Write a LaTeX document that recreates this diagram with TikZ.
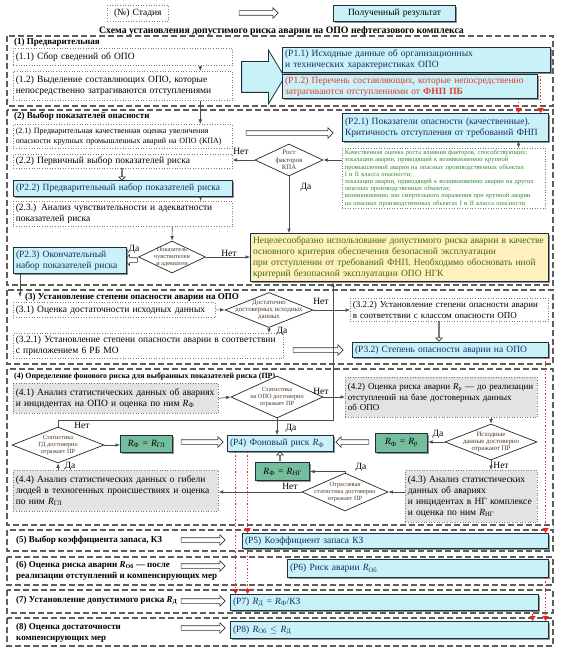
\documentclass[tikz,border=0pt]{standalone}
\usepackage{fontspec}
\setmainfont{Liberation Serif}
\usetikzlibrary{shapes.geometric,shapes.arrows,arrows.meta,shadows,calc}
\definecolor{cyanf}{HTML}{C9F1F8}
\definecolor{pborder}{HTML}{1E2E3A}
\definecolor{pblue}{HTML}{1B2A66}
\definecolor{pred}{HTML}{E5392F}
\definecolor{gtext}{HTML}{2F8A2F}
\definecolor{ytext}{HTML}{3D6B14}
\definecolor{yfill}{HTML}{FFF0BE}
\definecolor{grayf}{HTML}{E3E3E3}
\definecolor{greenf}{HTML}{74BE9E}
\definecolor{dotgray}{HTML}{7A7A7A}
\definecolor{secgray}{HTML}{5E5E5E}
\definecolor{diatext}{HTML}{4A3826}
\definecolor{redl}{HTML}{E8281E}
\newcommand\Rs[1]{\textit{R}\textsubscript{#1}}
\newcommand\fmain{\fontsize{9.5}{11}\selectfont}
\newcommand\fmid{\fontsize{9}{10.5}\selectfont}
\newcommand\fsec{\fontsize{9}{11.5}\selectfont\bfseries}
\newcommand\fsmall{\fontsize{8}{10}\selectfont}
\newcommand\fdia{\fontsize{6.3}{6.9}\selectfont}
\newcommand\fdiab{\fontsize{6.8}{7.4}\selectfont}
\newcommand\fgreen{\fontsize{6.5}{7.2}\selectfont}
\begin{document}
\begin{tikzpicture}[x=1pt,y=-1pt,
  bx/.style 2 args={minimum width=#1pt, text width=#1pt-5pt, minimum height=#2pt},
  dotbox/.style={draw=dotgray, dotted, line width=0.6pt, inner xsep=2.5pt, inner ysep=0.5pt, align=left, anchor=north west, font=\fmain},
  graybox/.style={dotbox, fill=grayf},
  pbox/.style={draw=pborder, line width=1.1pt, fill=cyanf, text=pblue, inner xsep=2.5pt, inner ysep=0.5pt, align=left, anchor=north west, font=\fmain,
     drop shadow={shadow xshift=1.3pt, shadow yshift=-1.3pt, fill=black!60, opacity=0.7}},
  rbox/.style={pbox, fill=greenf, text=black, align=center},
  dia/.style={diamond, draw=black!85, line width=0.7pt, fill=white, inner sep=0pt},
  dtxt/.style={inner sep=0pt, font=\fdia, align=center, text=diatext},
  arr/.style={draw=black!70, line width=0.6pt, -{Latex[length=4.5pt,width=3.6pt]}},
  reddot/.style={draw=redl, dotted, line width=1.2pt, -{Triangle[length=5pt,width=6pt]}},
  sec/.style={draw=secgray, line width=1.1pt, dash pattern=on 6pt off 3pt},
  harrow/.style={single arrow, draw=black!80, fill=white, line width=0.6pt, inner xsep=0pt, inner ysep=2pt, single arrow head extend=3pt, single arrow tip angle=90},
  sect/.style={anchor=west, inner sep=0pt, font=\fsec, align=left},
  lab/.style={inner sep=0pt, font=\fmain}
]
\useasboundingbox[fill=white] (0,0) rectangle (561,658);

% legend and title
\node[dotbox,bx={61}{16},align=center] (leg1) at (107,5) {(№) Стадия};
\node[harrow, minimum height=39pt] (lega) at (257.5,13) {};
\node[pbox,bx={122}{16},align=center,text=black] (leg2) at (333,5) {Полученный результат};
\node[inner sep=0pt, font=\fontsize{9.8}{11}\selectfont\bfseries] (title) at (281.5,31) {Схема установления допустимого риска аварии на ОПО нефтегазового комплекса};

% sections
\draw[sec] (7,36) rectangle (553,106);
\draw[sec] (7,110) rectangle (553,285);
\draw[sec] (7,290) rectangle (553,364);
\draw[sec] (7,369) rectangle (553,525);
\draw[sec] (7,530) rectangle (553,551);
\draw[sec] (7,557) rectangle (553,585);
\draw[sec] (7,590) rectangle (553,613);
\draw[sec] (7,618) rectangle (553,646);

% section 1
\node[sect] (s1) at (14,42.5) {(1) Предварительная};
\node[dotbox,bx={219}{17}] (b11) at (13,48) {(1.1) Сбор сведений об ОПО};
\node[dotbox,bx={219}{29}] (b12) at (13,71) {(1.2) Выделение составляющих ОПО, которые\\непосредственно затрагиваются отступлениями};
\node[single arrow, draw=pborder, fill=cyanf, line width=0.8pt, minimum height=43pt, inner xsep=0pt, inner ysep=15pt, single arrow head extend=11.5pt, single arrow tip angle=118] (barr) at (258.5,77) {};
\node[pbox,bx={268}{25}] (p11) at (282,47) {(Р1.1) Исходные данные об организационных\\и технических характеристиках ОПО};
\node[pbox,bx={255}{24},text=pred] (p12) at (282,74) {(Р1.2) Перечень составляющих, которые непосредственно\\затрагиваются отступлениями от \textbf{ФНП ПБ}};

% section 2
\node[sect] (s2) at (14,116) {(2) Выбор показателей опасности};
\node[dotbox,bx={219}{24},font=\fsmall] (b21) at (13,124) {(2.1) Предварительная качественная оценка увеличения\\опасности крупных промышленных аварий на ОПО (КПА)};
\node[harrow, minimum height=87pt] (ha21) at (288.5,133) {};
\node[pbox,bx={206}{28}] (p21) at (342,113) {(Р2.1) Показатели опасности (качественные).\\Критичность отступления от требований ФНП};
\node[dotbox,bx={203}{60},font=\fgreen,text=gtext] (gb) at (342,148) {Качественная оценка роста влияния факторов, способствующих:\\эскалации аварии, приводящей к  возникновению крупной\\промышленной аварии на опасных производственных объектах\\I и II класса опасности;\\эскалации аварии, приводящей к возникновению аварии на других\\опасных производственных объектах;\\возникновению зон смертельного поражения при крупной аварии\\на опасных производственных объектах I и II класса опасности};
\node[dia, minimum width=68pt, minimum height=32pt] (d1) at (289,160) {};
\node[dtxt,font=\fdiab] (d1t) at (d1) {Рост\\факторов\\КПА};
\node[lab] (l1n) at (241,151) {Нет};
\node[lab] (l1d) at (306,187) {Да};
\node[dotbox,bx={219}{14}] (b22) at (13,154) {(2.2) Первичный выбор показателей риска};
\node[harrow, minimum height=12pt, shape border rotate=270] (ha22) at (122,174) {};
\node[pbox,bx={219}{16}] (p22) at (13,180) {(Р2.2) Предварительный набор показателей риска};
\node[dotbox,bx={219}{25}] (b23) at (13,201) {(2.3.) Анализ чувствительности и адекватности\\показателей риска};
\node[dia, minimum width=67pt, minimum height=32pt] (d2) at (172,257) {};
\node[dtxt] (d2t) at (d2) {Показатель\\чувствителен\\и адекватен};
\node[lab] (l2d) at (134,249) {Да};
\node[lab] (l2n) at (229,253) {Нет};
\node[harrow, minimum height=13pt, shape border rotate=180] (ha23) at (132,260) {};
\node[pbox,bx={113}{26}] (p23) at (13,247) {(Р2.3) Окончательный\\набор показателей риска};
\node[pbox,bx={298}{48},fill=yfill,text=ytext] (yel) at (250,233) {Нецелесообразно использование допустимого риска аварии в качестве\\основного критерия обеспечения безопасной эксплуатации\\при отступлении от требований ФНП. Необходимо обосновать иной\\критерий безопасной эксплуатации ОПО НГК};
\coordinate (s3in) at (20,297);

% section 3
\node[sect] (s3) at (25,297) {(3) Установление степени опасности аварии на ОПО};
\node[dotbox,bx={202}{15}] (b31) at (13,302) {(3.1) Оценка достаточности исходных данных};
\node[dia, minimum width=88pt, minimum height=35pt] (d3) at (269,310) {};
\node[dtxt,font=\fdiab] (d3t) at (d3) {Достаточно\\достоверных исходных\\данных};
\node[lab] (l3n) at (321,301) {Нет};
\node[lab] (l3d) at (282,331) {Да};
\node[dotbox,bx={198}{23},font=\fmid] (b322) at (350,298) {(3.2.2) Установление степени опасности аварии\\в соответствии с классом опасности ОПО};
\node[harrow, minimum height=20pt, shape border rotate=270] (ha32) at (439,331) {};
\node[pbox,bx={196}{15}] (p32) at (352,342) {(Р3.2) Степень опасности аварии на ОПО};
\node[dotbox,bx={270}{25}] (b321) at (13,333) {(3.2.1) Установление степени опасности аварии в соответствии\\с приложением 6 РБ МО};
\node[harrow, minimum height=50pt] (ha31) at (317,350) {};

% section 4
\node[sect,font=\fontsize{7.9}{10}\selectfont\bfseries] (s4) at (14,377) {(4) Определение фонового риска для выбранных показателей риска (ПР)};
\node[graybox,bx={205}{30}] (b41) at (13,383) {(4.1) Анализ статистических данных об авариях\\и инцидентах на ОПО и оценка по ним \Rs{Ф}};
\node[dia, minimum width=92pt, minimum height=42pt] (d4) at (277,397) {};
\node[dtxt] (d4t) at (d4) {Статистика\\на ОПО достоверно\\отражает ПР};
\node[lab] (l4n) at (321,391) {Нет};
\node[lab] (l4d) at (291,428) {Да};
\node[graybox,bx={192}{40},font=\fmid] (b42) at (345,377) {(4.2) Оценка риска аварии \Rs{р}~--- до реализации\\отступлений на базе достоверных данных\\об ОПО};
\node[dia, minimum width=92pt, minimum height=36pt] (d5) at (491,442) {};
\node[dtxt,font=\fdiab] (d5t) at (d5) {Исходные\\данные достоверно\\отражают ПР};
\node[lab] (l5d) at (438,434) {Да};
\node[lab] (l5n) at (501,465) {Нет};
\node[rbox,bx={52}{19}] (rr) at (375,433) {\Rs{Ф} = \Rs{р}};
\node[harrow, minimum height=33pt, shape border rotate=180] (ha41) at (353.5,442) {};
\node[pbox,bx={106}{16}] (p4) at (227,435) {(Р4) Фоновый риск \Rs{Ф}};
\node[graybox,bx={132}{52}] (b43) at (405,470) {(4.3) Анализ статистических\\данных об авариях\\и инцидентах в НГ комплексе\\и оценка по ним \Rs{НГ}};
\node[dia, minimum width=86pt, minimum height=38pt] (d6) at (345,492) {};
\node[dtxt] (d6t) at (d6) {Отраслевая\\статистика достоверно\\отражает ПР};
\node[lab] (l6d) at (361,467) {Да};
\node[lab] (l6n) at (290,486) {Нет};
\node[rbox,bx={54}{18}] (rng) at (255,462) {\Rs{Ф} = \Rs{НГ}};
\node[harrow, minimum height=9pt, shape border rotate=90] (ha42) at (280,456.5) {};
\node[graybox,bx={205}{41}] (b44) at (13,470) {(4.4) Анализ статистических данных о гибели\\людей в техногенных происшествиях и оценка\\по ним \Rs{ГЛ}};
\node[dia, minimum width=92pt, minimum height=36pt] (d7) at (58,445) {};
\node[dtxt] (d7t) at (d7) {Статистика\\ГД достоверно\\отражает ПР};
\node[lab] (l7d) at (70,466) {Да};
\node[lab] (l7n) at (82,425) {Нет};
\node[rbox,bx={52}{17}] (rgl) at (120,435) {\Rs{Ф} = \Rs{ГЛ}};
\node[harrow, minimum height=42pt] (ha43) at (201,442) {};
\coordinate (nk) at (333,420);

% sections 5-8
\node[sect] (s5) at (16,540) {(5) Выбор коэффициента запаса, КЗ};
\node[harrow, minimum height=44pt] (ha5) at (202,540) {};
\node[pbox,bx={306}{15}] (p5) at (242,533) {(Р5) Коэффициент запаса КЗ};
\node[sect] (s6) at (16,571) {(6) Оценка риска аварии \Rs{Об}~--- после\\реализации  отступлений и компенсирующих мер};
\node[harrow, minimum height=44pt] (ha6) at (202,566) {};
\node[pbox,bx={261}{18}] (p6) at (287,559) {(Р6) Риск аварии \Rs{Об}};
\node[sect] (s7) at (16,601) {(7) Установление допустимого риска \Rs{Д}};
\node[harrow, minimum height=44pt] (ha7) at (202,601) {};
\node[pbox,bx={308}{16}] (p7) at (230,594) {(Р7) \Rs{Д} = \Rs{Ф}/КЗ};
\node[sect] (s8) at (16,633) {(8) Оценка достаточности\\компенсирующих мер};
\node[harrow, minimum height=44pt] (ha8) at (202,628) {};
\node[pbox,bx={318}{17}] (p8) at (230,621) {(Р8) \Rs{Об} $\le$ \Rs{Д}};

% connectors
\draw[arr] ([xshift=77.5pt]b11.south) -- ([xshift=77.5pt]b12.north);
\draw[arr] ([xshift=77.5pt]b12.south) -- ([xshift=77.5pt]b12.south |- b21.north);
\draw[reddot] ([xshift=124pt]p11.south) -- ([xshift=124pt]p11.south |- p21.north);
\draw[reddot] ([xshift=108.5pt]p12.south) -- ([xshift=108.5pt]p12.south |- p21.north);
\draw[arr] ([xshift=73pt]p21.south) -- ([xshift=73pt]p21.south |- gb.north);
\draw[arr] (d1.east -| gb.west) -- (d1.east);
\draw[arr] (d1.west) -- (d1.west -| b22.east);
\draw[arr] (d1.south) -- (d1.south |- yel.north);
\draw[arr] ([xshift=77.5pt]p22.south) -- ([xshift=77.5pt]p22.south |- b23.north);
\draw[arr] ([xshift=49.5pt]b23.south) -- (d2.north);
\draw[arr] (d2.east) -- (d2.east -| yel.west);
\draw[arr] ([xshift=7pt]p23.south west) -- (s3in);
\draw[arr] (b31.east) -- (d3.west);
\draw[arr] (d3.east) -- (d3.east -| b322.west);
\draw[arr] (d3.south) -- (d3.south |- b321.north);
\draw[reddot] ([xshift=95pt]p32.south) -- ([xshift=95pt]p32.south |- p5.north);
\draw[arr] (d7.north) |- (nk) -- (nk |- yel.south);
\draw[arr] (b41.east) -- (d4.west);
\draw[arr] (d4.east) -- (d4.east -| b42.west);
\draw[arr] (d4.south) -- (d4.south |- p4.north);
\draw[arr] (d5.north |- b42.south) -- (d5.north);
\draw[arr] (d5.west) -- (d5.west -| rr.east);
\draw[arr] (d5.south) -- (d5.south |- b43.north);
\draw[arr] (d6.east -| b43.west) -- (d6.east);
\draw[arr] (d6.north) |- (rng.east);
\draw[arr] (d6.west) -- (d6.west -| b44.east);
\draw[arr] (d7.south |- b44.north) -- (d7.south);
\draw[arr] (d7.east) -- (d7.east -| rgl.west);
\draw[reddot] ([xshift=-33pt]p4.south) -- ([xshift=-33pt]p4.south |- p5.north);
\draw[reddot] ([xshift=-45pt]p4.south) -- ([xshift=-45pt]p4.south |- p7.north);
\draw[reddot] ([xshift=-148pt]p5.south) -- ([xshift=-148pt]p5.south |- p7.north);
\draw[reddot] ([xshift=127.5pt]p6.south) -- ([xshift=127.5pt]p6.south |- p8.north);
\draw[reddot] ([xshift=148pt]p7.south) -- ([xshift=148pt]p7.south |- p8.north);
\end{tikzpicture}
\end{document}
